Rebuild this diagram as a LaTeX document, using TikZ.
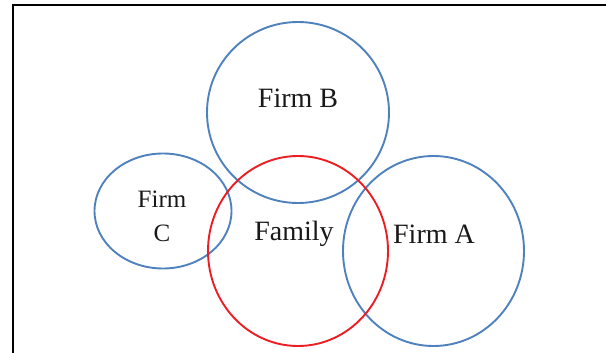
\documentclass[tikz,border=0pt]{standalone}
\usepackage{fontspec}
\setmainfont{Liberation Serif}
\usetikzlibrary{shapes.geometric}
\definecolor{firmblue}{RGB}{79,129,189}
\definecolor{famred}{RGB}{236,30,36}

\begin{document}
\begin{tikzpicture}
     [
     x=1pt, y=-1pt,
     every node/.style={font=\fontsize{28}{30}\selectfont, text=black!90},
     set/.style={ellipse, draw, line width=1.9pt, inner sep=0pt},
     firm/.style={set, draw=firmblue},
     family/.style={set, draw=famred}
     ]
     \useasboundingbox (0,0) rectangle (606,353);
     \draw[line width=2pt] (12.5,353) -- (12.5,5) -- (606,5);
     % the sets
     \node[firm, minimum width=182, minimum height=181] (firmB) at (298,112.5) {};
     \node[firm, minimum width=137, minimum height=115] (firmC) at (163,211) {};
     \node[firm, minimum width=181, minimum height=190] (firmA) at (433.5,251) {};
     \node[family, minimum width=180, minimum height=190] (family) at (298,251) {};
     % the labels
     \node (labB) at (298,98) {Firm B};
     \node[align=center, font=\fontsize{25}{34}\selectfont] (labC) at (162,216) {Firm\\C};
     \node (labFam) at (294,234) {Family};
     \node (labA) at (434,234) {Firm A};
\end{tikzpicture}
\end{document}
